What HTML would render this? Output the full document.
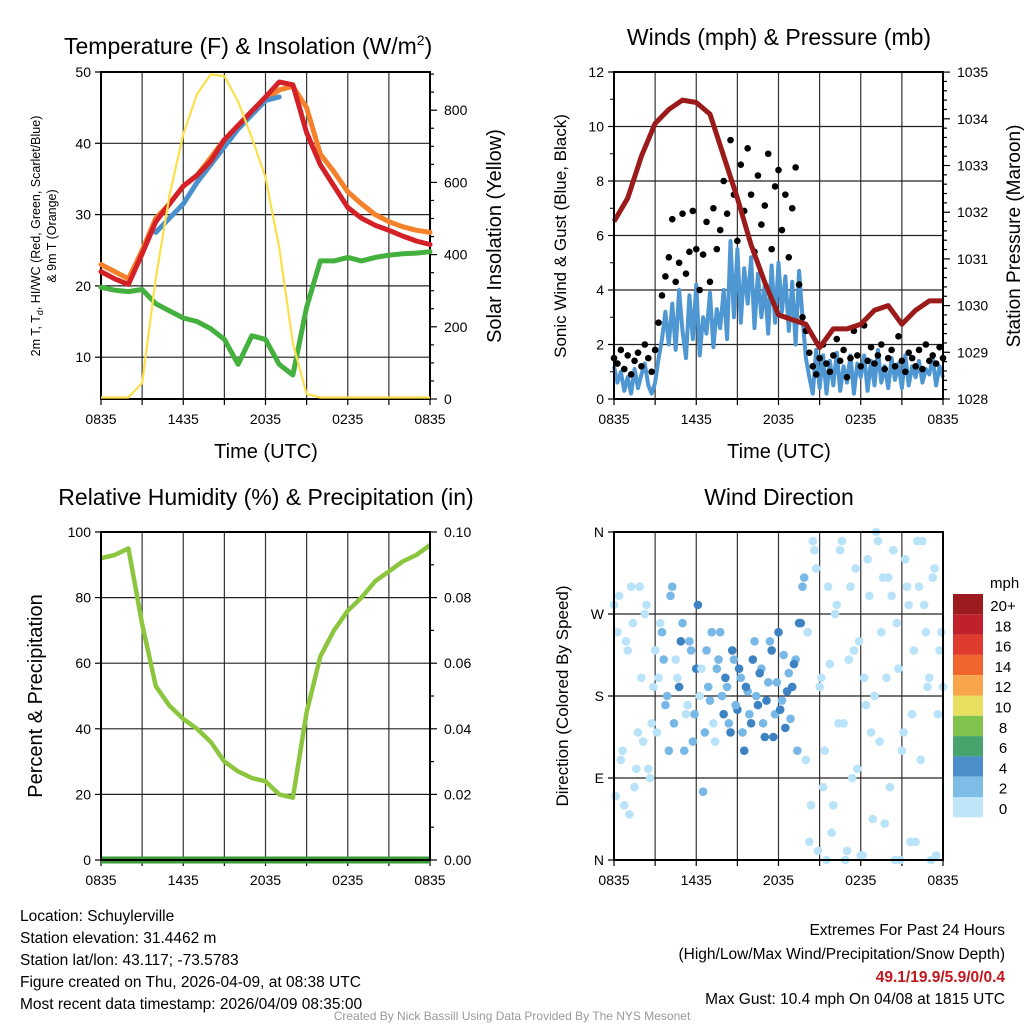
<!DOCTYPE html>
<html><head><meta charset="utf-8"><style>
body{margin:0;background:#fff;width:1024px;height:1024px;overflow:hidden;font-family:"Liberation Sans",sans-serif}
svg{position:absolute;left:0;top:0}
</style></head><body>
<svg id="c" width="1024" height="1024" viewBox="0 0 1024 1024" xmlns="http://www.w3.org/2000/svg" font-family="Liberation Sans, sans-serif">
<g id="info" font-size="15.5" fill="#000">
<text x="20" y="921">Location: Schuylerville</text>
<text x="20" y="943">Station elevation: 31.4462 m</text>
<text x="20" y="965">Station lat/lon: 43.117; -73.5783</text>
<text x="20" y="987">Figure created on Thu, 2026-04-09, at 08:38 UTC</text>
<text x="20" y="1009">Most recent data timestamp: 2026/04/09 08:35:00</text>
</g>
<g font-size="15.5" text-anchor="end">
<text x="1005" y="935">Extremes For Past 24 Hours</text>
<text x="1005" y="959">(High/Low/Max Wind/Precipitation/Snow Depth)</text>
<text x="1005" y="982" fill="#c4161c" font-weight="bold">49.1/19.9/5.9/0/0.4</text>
<text x="1005" y="1004">Max Gust: 10.4 mph On 04/08 at 1815 UTC</text>
</g>
<text x="512" y="1020" font-size="12" fill="#999" text-anchor="middle">Created By Nick Bassill Using Data Provided By The NYS Mesonet</text>
</svg>
<script>
const hours = Array.from({length:25},(_,i)=>i);
const timeTicks = ['0835','1435','2035','0235','0835'];
const tempRed = [22.0,21.0,20.2,24.5,29,31.5,34,35.5,37.5,40.5,42.5,44.5,46.5,48.6,48.2,41.5,37.0,34.0,31.0,29.5,28.5,27.8,27.0,26.3,25.8];
const tempOrange = [23,22,21.0,25,29.5,31.5,34,35.5,38,40.5,42.5,44.5,46,47.5,48,45,38.5,36,33.2,31.5,30.0,29,28.3,27.8,27.5];
const windChill = [null,null,null,null,27.5,29.5,31.5,34.5,37,39.5,42,44,46,46.5,null,null,null,null,null,null,null,null,null,null,null];
const dewpoint = [19.8,19.4,19.2,19.5,17.5,16.5,15.5,15,14,12.5,9,13,12.5,9,7.5,17,23.5,23.5,24,23.5,24,24.3,24.5,24.6,24.8];
const solar = [0,0,0,40,330,560,730,840,895,890,820,720,610,415,150,10,0,0,0,0,0,0,0,0,0];
const pressure = [1031.8,1032.3,1033.2,1033.9,1034.2,1034.4,1034.35,1034.1,1033.2,1032.3,1031.3,1030.5,1029.8,1029.7,1029.6,1029.1,1029.5,1029.5,1029.6,1029.9,1030.0,1029.6,1029.9,1030.1,1030.1];
const sonicWind = [1.2,0.6,1.0,0.3,0.8,0.2,1.1,0.4,0.9,1.3,0.5,
0.2,0.6,1.5,2.2,3.2,2.0,3.5,1.8,4.0,2.5,1.5,3.8,2.2,4.2,1.6,3.0,2.4,3.9,1.9,3.3,2.6,
4.0,2.2,5.8,3.0,5.5,2.8,4.8,3.5,5.2,2.6,4.6,3.0,4.2,2.4,4.9,2.8,5.0,3.2,4.5,2.5,4.3,2.0,4.7,3.0,
1.5,0.8,0.2,1.8,0.4,1.6,0.2,1.4,0.5,1.7,0.3,1.2,0.6,1.6,0.2,1.3,0.8,1.6,0.3,1.4,0.5,1.8,0.6,1.2,0.4,1.5,0.7,1.3,0.4,1.6,0.5,1.2,0.8,1.4,0.6,1.1,0.9,1.5,0.5,1.2,0.8];
const gusts = [1.5,1.3,1.8,1.1,1.6,0.9,1.4,1.7,1.2,2.0,1.5,
1.0,1.8,2.8,3.8,4.5,5.2,6.6,4.3,5.0,6.8,4.6,5.4,6.9,5.5,4.0,5.3,6.5,4.3,7.0,5.5,6.2,
8.0,6.8,9.5,7.5,5.8,8.6,6.9,9.2,7.5,5.4,8.2,6.4,7.1,9.0,5.5,7.8,8.4,6.2,7.5,5.2,7.0,8.5,4.2,3.0,
2.5,1.7,1.2,0.9,1.5,2.0,1.3,1.0,1.6,2.2,1.4,1.8,0.8,1.5,2.5,1.6,1.2,2.7,1.4,1.9,1.3,1.6,2.0,1.1,1.5,1.8,1.2,2.3,1.4,1.0,1.7,1.5,1.2,1.8,1.1,2.0,1.4,1.6,1.3,1.9,1.5];
const windDir = [280,250,110,60,230,300,80,140,200,270,100,
150,230,200,250,170,120,300,220,190,260,160,240,130,210,180,75,230,175,150,210,250,
160,190,140,220,165,200,120,185,150,240,170,210,135,195,230,160,250,175,145,205,190,220,260,300,
110,20,350,320,190,80,0,215,60,280,340,150,10,300,230,100,5,200,330,140,180,350,250,40,310,290,0,210,120,330,280,160,20,300,350,250,200,310,5,230,190];
const windDir2 = [70,290,120,240,50,260,100,300,130,280,90,
190,140,260,220,180,290,150,200,240,120,170,230,160,280,210,140,190,250,130,220,180,
200,150,230,170,210,140,190,160,220,180,205,150,175,240,135,195,165,225,185,155,215,120,260,310,
250,60,340,10,200,120,300,30,270,150,350,0,220,90,320,240,5,170,290,45,360,130,310,200,80,340,260,0,140,300,20,230,350,110,280,190,0,320,160,250];
const rh = [92,93,95,72,53,47,43,40,36,30,27,25,24,20,19,45,62,70,76,80,85,88,91,93,96];
const precip = [0,0,0,0,0,0,0,0,0,0,0,0,0,0,0,0,0,0,0,0,0,0,0,0,0];
const cbLabels = ['20+','18','16','14','12','10','8','6','4','2','0'];
const cbColors = ['#9b1b1e','#c0202a','#df3a2e','#f0652b','#f8a44a','#e8e060','#7fc24e','#45a36b','#4b8fca','#7dbde6','#bfe6f8'];
const dotColors = ['#9b1b1e','#c0202a','#df3a2e','#f0652b','#f8a44a','#e8e060','#7fc24e','#45a36b','#3d82c2','#78b8e6','#b8e3f8'];

const NS='http://www.w3.org/2000/svg';
const svg=document.getElementById('c');
function mk(tag,attrs,parent){const e=document.createElementNS(NS,tag);for(const k in attrs)e.setAttribute(k,attrs[k]);(parent||svg).appendChild(e);return e;}
function txt(s,attrs,parent){const e=mk('text',attrs,parent);e.textContent=s;return e;}

function panel(x0,y0,w,h,name){
  const g=mk('g',{});
  
  
  const xs=t=>x0+t/24*w;
  return {g,x0,y0,w,h,xs};
}
function gridAndTime(p,hLines){
  const gg=mk('g',{},p.g);
  
  
  for(let k=0;k<=8;k++){const x=p.x0+k*p.w/8;mk('line',{x1:x,x2:x,y1:p.y0,y2:p.y0+p.h,stroke:'#333','stroke-width':1.2},gg);
    mk('line',{x1:x,x2:x,y1:p.y0+p.h,y2:p.y0+p.h+6,stroke:'#000','stroke-width':1.2},gg);}
  hLines.forEach(y=>mk('line',{x1:p.x0,x2:p.x0+p.w,y1:y,y2:y,stroke:'#222','stroke-width':1.2},gg));
  const tg=mk('g',{},p.g);
  
  
  timeTicks.forEach((s,i)=>txt(s,{x:p.xs(i*6),y:p.y0+p.h+25,'font-size':14,'text-anchor':'middle'},tg));
}
function frame(p){const r=mk('rect',{x:p.x0,y:p.y0,width:p.w,height:p.h,fill:'none',stroke:'#000','stroke-width':2},p.g);
  
  }
function pathOf(xsArr,ysArr){let d='',pen=false;for(let i=0;i<xsArr.length;i++){if(ysArr[i]==null){pen=false;continue;}d+=(pen?'L':'M')+xsArr[i].toFixed(1)+','+ysArr[i].toFixed(1);pen=true;}return d;}
function leftTicks(p,vals,ys,labels){vals.forEach((v,i)=>{const y=ys(v);mk('line',{x1:p.x0-6,x2:p.x0,y1:y,y2:y,stroke:'#000','stroke-width':1.2},p.g);
  if(labels)txt(labels[i],{x:p.x0-10,y:y+5,'font-size':14,'text-anchor':'end'},p.g);});}
function rightTicks(p,vals,ys,labels,len){vals.forEach((v,i)=>{const y=ys(v);mk('line',{x1:p.x0+p.w,x2:p.x0+p.w+len,y1:y,y2:y,stroke:'#000','stroke-width':1.2},p.g);
  if(labels&&labels[i]!=null)txt(labels[i],{x:p.x0+p.w+14,y:y+5,'font-size':14},p.g);});}

// ---- Panel 1: temperature ----
const p1=panel(101,72,329,327,'temperature-panel');
const ty=v=>p1.y0+(50-v)*7.13;
const sy=v=>p1.y0+p1.h-1.5-v*0.361;
gridAndTime(p1,[10,20,30,40].map(ty));
leftTicks(p1,[10,20,30,40,50],ty,['10','20','30','40','50']);
rightTicks(p1,[0,200,400,600,800],v=>p1.y0+p1.h-v*0.361,['0','200','400','600','800'],7);
rightTicks(p1,[50,100,150,250,300,350,450,500,550,650,700,750,850,900],v=>p1.y0+p1.h-v*0.361,null,4);
frame(p1);
const hx=hours.map(p1.xs);
[['dewpoint-line',dewpoint,'#44b03e'],['temp-9m-orange-line',tempOrange,'#f5812b'],['windchill-line',windChill,'#4a90cc'],['temp-2m-red-line',tempRed,'#d42128']].forEach(([n,arr,c])=>{
  const e=mk('path',{d:pathOf(hx,arr.map(v=>v==null?null:ty(v))),fill:'none',stroke:c,'stroke-width':5,'stroke-linejoin':'round','stroke-linecap':'round'},p1.g);
  
  
});
const sol=mk('path',{d:pathOf(hx,solar.map(sy)),fill:'none',stroke:'#fbe04b','stroke-width':2.2,'stroke-linejoin':'round'},p1.g);


txt('',{x:64,y:54,'font-size':23},p1.g).innerHTML='Temperature (F) &amp; Insolation (W/m<tspan font-size="14" dy="-9">2</tspan><tspan dy="9">)</tspan>';
txt('Time (UTC)',{x:266,y:458,'font-size':20,'text-anchor':'middle'},p1.g);
const yl1=mk('text',{transform:'translate(40,236) rotate(-90)','font-size':12.5,'text-anchor':'middle'},p1.g);
yl1.innerHTML='2m T, T<tspan font-size="9" dy="3">d</tspan><tspan dy="-3">, HI/WC (Red, Green, Scarlet/Blue)</tspan>';


txt('& 9m T (Orange)',{transform:'translate(56,236) rotate(-90)','font-size':12.5,'text-anchor':'middle'},p1.g);
txt('Solar Insolation (Yellow)',{transform:'translate(501,236) rotate(-90)','font-size':20,'text-anchor':'middle'},p1.g);

// ---- Panel 2: winds ----
const p2=panel(614,72,329,327,'wind-pressure-panel');
const wy=v=>p2.y0+p2.h-v*27.25;
const py=v=>p2.y0+p2.h-(v-1028)*46.7;
gridAndTime(p2,[2,4,6,8,10].map(wy));
leftTicks(p2,[0,2,4,6,8,10,12],wy,['0','2','4','6','8','10','12']);
[1,3,5,7,9,11].forEach(v=>{const y=wy(v);mk('line',{x1:p2.x0-4,x2:p2.x0,y1:y,y2:y,stroke:'#000'},p2.g);});
rightTicks(p2,[1028,1029,1030,1031,1032,1033,1034,1035],py,['1028','1029','1030','1031','1032','1033','1034','1035'],7);
const minorP=[];for(let v=1028.2;v<1035;v+=0.2){if(Math.abs(v-Math.round(v))>0.05)minorP.push(v);}
rightTicks(p2,minorP,py,null,4);
const tq=sonicWind.map((_,i)=>p2.xs(i*0.25));
const bw=mk('path',{d:pathOf(tq,sonicWind.map(wy)),fill:'none',stroke:'#4f97d3','stroke-width':4,'stroke-linejoin':'round'},p2.g);


gusts.forEach((v,i)=>{const c=mk('circle',{cx:p2.xs(i*0.25),cy:wy(v),r:3.3,fill:'#000'},p2.g);
  
  });
const pl=mk('path',{d:pathOf(hours.map(p2.xs),pressure.map(py)),fill:'none',stroke:'#9b1a1a','stroke-width':5,'stroke-linejoin':'round'},p2.g);


frame(p2);
txt('Winds (mph) & Pressure (mb)',{x:779,y:45,'font-size':23,'text-anchor':'middle'},p2.g);
txt('Time (UTC)',{x:779,y:458,'font-size':20,'text-anchor':'middle'},p2.g);
txt('Sonic Wind & Gust (Blue, Black)',{transform:'translate(566,236) rotate(-90)','font-size':17,'text-anchor':'middle'},p2.g);
txt('Station Pressure (Maroon)',{transform:'translate(1020,236) rotate(-90)','font-size':19,'text-anchor':'middle'},p2.g);

// ---- Panel 3: RH ----
const p3=panel(101,532,329,328,'humidity-panel');
const ry=v=>p3.y0+p3.h-v*3.28;
const qy=v=>p3.y0+p3.h-v*3280;
gridAndTime(p3,[20,40,60,80].map(ry));
leftTicks(p3,[0,20,40,60,80,100],ry,['0','20','40','60','80','100']);
rightTicks(p3,[0,0.02,0.04,0.06,0.08,0.1],qy,['0.00','0.02','0.04','0.06','0.08','0.10'],7);
rightTicks(p3,[0.01,0.03,0.05,0.07,0.09],qy,null,4);
const h3=hours.map(p3.xs);
const rl=mk('path',{d:pathOf(h3,rh.map(ry)),fill:'none',stroke:'#8cc63f','stroke-width':4.5,'stroke-linejoin':'round'},p3.g);


const ql=mk('path',{d:pathOf(h3,precip.map(qy)),fill:'none',stroke:'#3a9a3a','stroke-width':7},p3.g);


frame(p3);
txt('Relative Humidity (%) & Precipitation (in)',{x:266,y:505,'font-size':23,'text-anchor':'middle'},p3.g);
txt('Percent & Precipitation',{transform:'translate(42,696) rotate(-90)','font-size':20,'text-anchor':'middle'},p3.g);

// ---- Panel 4: wind direction ----
const p4=panel(614,532,329,328,'wind-direction-panel');
const dy=v=>p4.y0+p4.h-v/360*p4.h;
gridAndTime(p4,[90,180,270].map(dy));
leftTicks(p4,[0,90,180,270,360],dy,['N','E','S','W','N']);
function binColor(s){const b=Math.min(10,Math.floor(s/2));return dotColors[10-b];}
windDir.forEach((d,i)=>{const c=mk('circle',{cx:p4.xs(i*0.25),cy:dy(d),r:4.3,fill:binColor(sonicWind[i])},p4.g);
  
  });
windDir2.forEach((d,i)=>{const c=mk('circle',{cx:p4.xs(i*0.25+0.125),cy:dy(d),r:4.3,fill:binColor(sonicWind[i])},p4.g);
  
  });
frame(p4);
txt('Wind Direction',{x:779,y:505,'font-size':23,'text-anchor':'middle'},p4.g);
txt('Direction (Colored By Speed)',{transform:'translate(568,696) rotate(-90)','font-size':17,'text-anchor':'middle'},p4.g);
const cb=mk('g',{});


txt('mph',{x:990,y:588,'font-size':15},cb);
cbColors.forEach((c,i)=>{mk('rect',{x:953,y:594+i*20.3,width:30,height:20.3,fill:c},cb);
  txt(cbLabels[i],{x:1003,y:611+i*20.3,'font-size':15,'text-anchor':'middle'},cb);});
</script>
</body></html>
